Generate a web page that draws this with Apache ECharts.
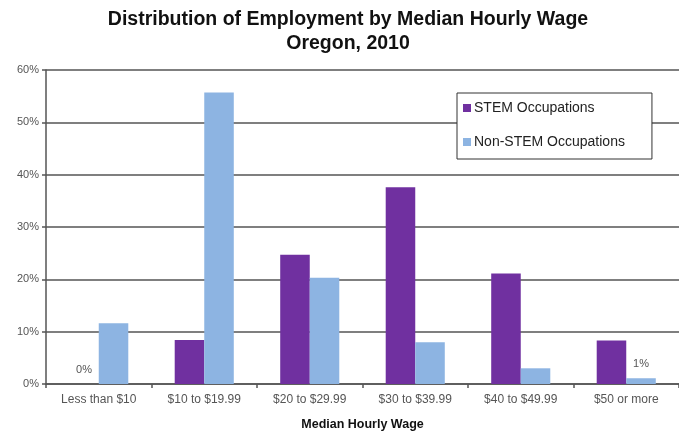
<!DOCTYPE html>
<html>
<head>
<meta charset="utf-8">
<script src="https://cdn.jsdelivr.net/npm/echarts@6/dist/echarts.min.js"></script>
<style>
html,body{margin:0;padding:0;background:#fff;}
#chart{width:679px;height:436px;}
</style>
</head>
<body>
<div id="chart"></div>
<script>
const categories = ['Less than $10', '$10 to $19.99', '$20 to $29.99', '$30 to $39.99', '$40 to $49.99', '$50 or more'];
const stemValues = [0, 8.4, 24.7, 37.6, 21.1, 8.3];
const nonStemValues = [11.6, 55.7, 20.3, 8.0, 3.0, 1.1];
const stemLabeled = [0];
const nonStemLabeled = [5];
const yTicks = [0, 10, 20, 30, 40, 50, 60];

const FONT = 'Liberation Sans, Arial, sans-serif';

function makeData(values, labeled) {
  return values.map((v, i) => labeled.includes(i)
    ? { value: v, label: { show: true, formatter: Math.round(v) + '%' } }
    : v);
}

const chart = echarts.init(document.getElementById('chart'), null, { renderer: 'canvas' });
chart.setOption({
  backgroundColor: '#fff',
  animation: false,
  textStyle: { fontFamily: FONT },
  title: {
    text: 'Distribution of Employment by Median Hourly Wage\nOregon, 2010',
    left: 343,
    top: 3,
    textAlign: 'center',
    textStyle: { fontFamily: FONT, fontSize: 19.5, fontWeight: 'bold', color: '#111', lineHeight: 24 }
  },
  legend: {
    orient: 'vertical',
    left: 457,
    top: 93,
    padding: [8, 27, 10, 6],
    itemGap: 20,
    itemWidth: 8,
    itemHeight: 8,
    icon: 'rect',
    backgroundColor: '#fff',
    borderColor: '#333',
    borderWidth: 1,
    textStyle: { fontFamily: FONT, fontSize: 14, color: '#222', padding: [0, 0, 0, -2] },
    data: ['STEM Occupations', 'Non-STEM Occupations']
  },
  grid: { left: 46, top: 70, width: 638, height: 320, containLabel: false },
  xAxis: {
    type: 'category',
    data: categories,
    name: 'Median Hourly Wage',
    nameLocation: 'middle',
    nameGap: 34,
    nameTextStyle: { fontFamily: FONT, fontSize: 12.5, fontWeight: 'bold', color: '#111' },
    axisLine: { show: true, lineStyle: { color: '#555', width: 1.5 } },
    axisTick: { show: true, length: 4, lineStyle: { color: '#555', width: 1.5 } },
    axisLabel: { fontFamily: FONT, fontSize: 12, color: '#555', margin: 10, interval: 0 }
  },
  yAxis: {
    type: 'value',
    min: yTicks[0],
    max: yTicks[yTicks.length - 1],
    interval: yTicks[1] - yTicks[0],
    axisLine: { show: true, lineStyle: { color: '#555', width: 1.5 } },
    axisTick: { show: true, length: 4, lineStyle: { color: '#555', width: 1.5 } },
    axisLabel: { fontFamily: FONT, fontSize: 11, color: '#555', margin: 7, formatter: '{value}%' },
    splitLine: { show: true, lineStyle: { color: '#555', width: 1.5 } }
  },
  series: [
    {
      name: 'STEM Occupations',
      type: 'bar',
      data: makeData(stemValues, stemLabeled),
      itemStyle: { color: '#7030A0' },
      barGap: '0%',
      barCategoryGap: '44%',
      label: { show: false, position: 'top', distance: 9, fontFamily: FONT, fontSize: 11, color: '#555' }
    },
    {
      name: 'Non-STEM Occupations',
      type: 'bar',
      data: makeData(nonStemValues, nonStemLabeled),
      itemStyle: { color: '#8DB4E2' },
      barGap: '0%',
      barCategoryGap: '44%',
      label: { show: false, position: 'top', distance: 9, fontFamily: FONT, fontSize: 11, color: '#555' }
    }
  ]
});
</script>
</body>
</html>
